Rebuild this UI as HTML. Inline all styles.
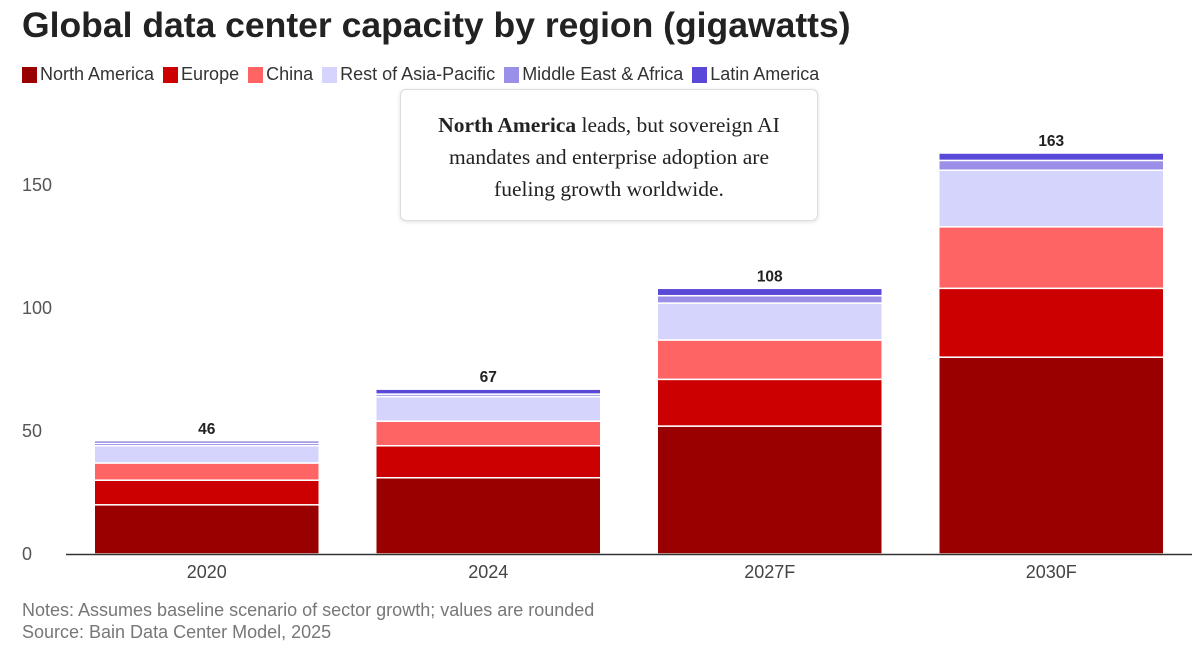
<!DOCTYPE html>
<html><head><meta charset="utf-8"><style>
body{margin:0;width:1200px;height:660px;background:#fff;font-family:"Liberation Sans",sans-serif;overflow:hidden;position:relative}
h1{position:absolute;left:22px;top:5px;margin:0;font-size:35.5px;font-weight:bold;color:#222}
.legend{position:absolute;left:22px;top:64px;font-size:18px;color:#333;display:flex;gap:9px}
.legend span{display:flex;align-items:center}
.legend i{display:inline-block;width:15px;height:16px;margin-right:3px}
.note{position:absolute;left:22px;font-size:18px;color:#777}
.callout{position:absolute;left:400px;top:89px;width:418px;height:132px;border:1px solid #ddd;border-radius:6px;background:#fff;box-shadow:0 1px 4px rgba(0,0,0,.12);font-family:"Liberation Serif",serif;font-size:21.5px;color:#222;text-align:center;line-height:32px;padding-top:19px;box-sizing:border-box}
</style></head><body>
<h1>Global data center capacity by region (gigawatts)</h1>
<div class="legend">
<span><i style="background:#990000"></i>North America</span>
<span><i style="background:#cc0000"></i>Europe</span>
<span><i style="background:#ff6464"></i>China</span>
<span><i style="background:#d4d4fc"></i>Rest of Asia-Pacific</span>
<span><i style="background:#9a90e8"></i>Middle East &amp; Africa</span>
<span><i style="background:#5a48d8"></i>Latin America</span>
</div>
<svg id="chart" width="1200" height="660" style="position:absolute;left:0;top:0"></svg>
<div class="callout"><b>North America</b> leads, but sovereign AI<br>mandates and enterprise adoption are<br>fueling growth worldwide.</div>
<div class="note" style="top:600px">Notes: Assumes baseline scenario of sector growth; values are rounded</div>
<div class="note" style="top:622px">Source: Bain Data Center Model, 2025</div>
<script>
const categories=["2020","2024","2027F","2030F"];
const northAmerica=[20,31,52,80];
const europe=[10,13,19,28];
const china=[7,10,16,25];
const restAsiaPacific=[7,10,15,23];
const middleEastAfrica=[1,1,3,4];
const latinAmerica=[1,2,3,3];
const totals=[46,67,108,163];
const yTicks=[0,50,100,150];
const series=[["north-america",northAmerica,"#990000"],["europe",europe,"#cc0000"],["china",china,"#ff6464"],["rest-of-asia-pacific",restAsiaPacific,"#d4d4fc"],["middle-east-africa",middleEastAfrica,"#9a90e8"],["latin-america",latinAmerica,"#5a48d8"]];
const svg=document.getElementById('chart');const NS="http://www.w3.org/2000/svg";
const y0=554,pxPer=2.46;const y=v=>y0-v*pxPer;
const bandL=66,bandW=281.5,barW=225;const x=i=>bandL+i*bandW+(bandW-barW)/2;
function mk(t,a){const e=document.createElementNS(NS,t);for(const k in a)e.setAttribute(k,a[k]);svg.appendChild(e);return e;}
yTicks.forEach(t=>{const e=mk('text',{x:22,y:y(t)+6,'font-size':18,fill:'#555'});e.textContent=t;

});
categories.forEach((c,i)=>{let cum=0;
series.forEach(([n,arr,col])=>{const v=arr[i];const r=mk('rect',{x:x(i),y:y(cum+v),width:barW,height:v*pxPer,fill:col,stroke:'#fff','stroke-width':1.5});

cum+=v;});
const tl=mk('text',{x:x(i)+barW/2,y:y(totals[i])-7,'font-size':15.5,'font-weight':'bold',fill:'#222','text-anchor':'middle'});tl.textContent=totals[i];


const xl=mk('text',{x:x(i)+barW/2,y:578,'font-size':18,fill:'#444','text-anchor':'middle'});xl.textContent=c;

});
const ax=mk('line',{x1:66,x2:1192,y1:y0+0.5,y2:y0+0.5,stroke:'#333','stroke-width':1.5});


</script>
</body></html>
